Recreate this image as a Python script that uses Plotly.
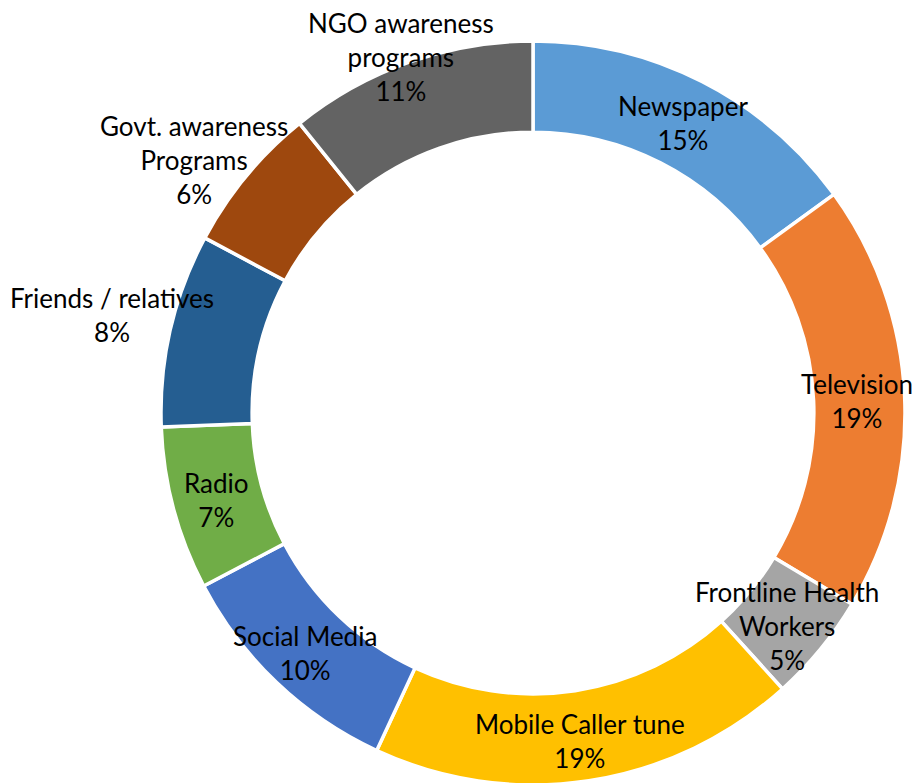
import math
import plotly.graph_objects as go

categories = ["Newspaper", "Television", "Frontline Health Workers", "Mobile Caller tune",
              "Social Media", "Radio", "Friends / relatives", "Govt. awareness Programs",
              "NGO awareness programs"]
values = [15.0, 18.6, 4.7, 18.6, 10.4, 7.1, 8.4, 6.4, 10.8]
label_texts = ["Newspaper", "Television", "Frontline Health<br>Workers", "Mobile Caller tune",
               "Social Media", "Radio", "Friends / relatives", "Govt. awareness<br>Programs",
               "NGO awareness<br>programs"]
colors = ["#5B9BD5", "#ED7D31", "#A5A5A5", "#FFC000", "#4472C4", "#70AD47",
          "#255E91", "#9E480E", "#636363"]
# manual label nudges (pixels), like dragged data labels
label_xshift = [2, -2, 2, -2, -3, -1, -103, -87, -23]
label_yshift = [-1, -2, -6, -5, -3, -3, 25, 45, 48]

W, H = 922, 783
cx, cy, R = 525, 405, 372
hole = 0.755

fig = go.Figure(go.Pie(
    labels=categories, values=values, sort=False, direction="clockwise", rotation=0,
    hole=hole, textinfo="none", hoverinfo="label+percent",
    marker=dict(colors=colors, line=dict(color="white", width=3.5)),
    domain=dict(x=[(cx - R) / W, (cx + R) / W], y=[(H - cy - R) / H, (H - cy + R) / H]),
    showlegend=False,
))

total = sum(values)
rmid = R * (1 + hole) / 2
cum = 0
for i, v in enumerate(values):
    ang = 2 * math.pi * (cum + v / 2) / total
    cum += v
    px = cx + rmid * math.sin(ang)
    py = cy - rmid * math.cos(ang)
    pct = int(100 * v / total + 0.5)
    fig.add_annotation(
        x=px / W, y=1 - py / H, xref="paper", yref="paper",
        xanchor="center", yanchor="middle",
        text=f"{label_texts[i]}<br>{pct}%", showarrow=False,
        xshift=label_xshift[i], yshift=label_yshift[i],
        font=dict(family="Lato", size=26, color="#000000"), align="center",
    )

fig.update_layout(width=W, height=H, margin=dict(l=0, r=0, t=0, b=0),
                  paper_bgcolor="white", plot_bgcolor="white")
fig.write_html("out.html")
